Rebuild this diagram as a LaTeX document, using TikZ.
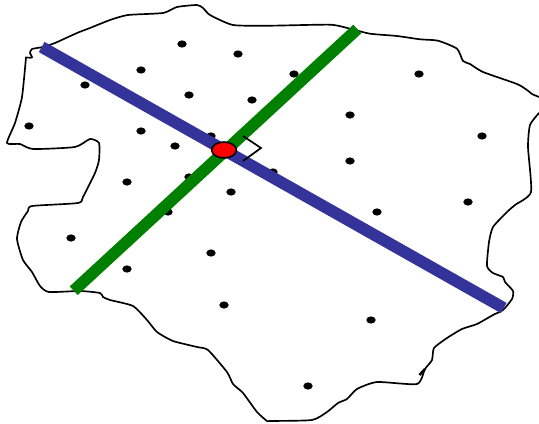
\documentclass[tikz,border=0pt]{standalone}
\usetikzlibrary{shapes.geometric}
\definecolor{bandblue}{HTML}{333399}
\definecolor{bandgreen}{HTML}{008000}
\tikzset{
  border/.style={draw=black,line width=1.25pt,line join=round,line cap=round},
  sample/.style={shape=ellipse,fill=black,draw=none,inner sep=0pt,minimum width=7pt,minimum height=5.4pt},
  band/.style={line width=8.8pt,line cap=butt},
  centre/.style={shape=ellipse,fill=red,draw=black,line width=1.2pt,inner sep=0pt,minimum width=18.5pt,minimum height=12pt},
  rightmark/.style={draw=black,line width=1.3pt,line join=miter}
}
\begin{document}
\begin{tikzpicture}[x=0.75pt,y=-0.75pt]
\useasboundingbox (0,0) rectangle (539,424);
% outline
\draw[border] plot[smooth,tension=0.35] coordinates {(26,57.5)(32,57.5)(30,53)(32,49)(43,47)(55,43)(77,33)(90,28)(110,20)(128,15)(163,13)(177,7)(197,5)(203,8)(210,15)(233,25)(270,25.7)(330,24.7)(350,28.7)(370,33.7)(397,36)(420,39.3)(438,40.7)(457,48.7)(463,61)(470,64)(483,72)(517,84)(527,90)(532,94)(539,97)};
\draw[border] plot[smooth,tension=0.35] coordinates {(539,113)(530,125)(528,147)(531,192)(515,205)(507,212)(493,227)(489,242)(487,266)(493,273)(503,277)(505,282)(513,291)(512,299)(503,310)(493,315)(477,324)(462,329)(447,338)(434,348)(432,360)(425,369)(417,384)(377,382)(357,389)(347,399)(338,403)(327,412)(312,420)(270,421)(267,421)(257,412)(243,393)(233,384)(227,372)(208,350)(197,347)(173,341)(157,332)(147,320)(133,306)(110,300)(103,297)(100,293)(80,291)(49,292)(40,286)(32,272)(23,260)(17,239)(21,222)(28,211)(32,206)(78,203)(83,197)(95,173)(99,160)(99,143)(90,139)(75,147)(33,149)(20,144)(7,143)(15,123)(22,97)(26,57.5)};
\draw[black,line width=1.9pt] (425,369) -- (419.5,375);
% sample points
\foreach \i/\px/\py in {1/182/44,2/238/54,3/141/70,4/85/85,5/189/95,6/252/100,7/294/74,8/419/74,9/350/115,10/482/136,11/29/126,12/141/131,13/175/146,14/211/136,15/127/182,16/189/177,17/231/192,18/273/172,19/350/161,20/377/212,21/468/202,22/168/212,23/71/238,24/127/269,25/211/253,26/224/305,27/371/320,28/308/386}
  \node[sample] (s\i) at (\px,\py) {};
% bands
\coordinate (ga) at (73.7,290.7);
\coordinate (gb) at (357.3,29);
\coordinate (ba) at (41.7,47);
\coordinate (bb) at (503.7,308);
\draw[band,bandgreen] (ga) -- (gb);
\draw[band,bandblue] (ba) -- (bb);
% right-angle mark
\coordinate (ma) at (243,136);
\coordinate (mb) at (261,148);
\coordinate (mc) at (243,161);
\draw[rightmark] (ma) -- (mb) -- (mc);
\node[centre] (c) at (224,150) {};
\end{tikzpicture}
\end{document}
